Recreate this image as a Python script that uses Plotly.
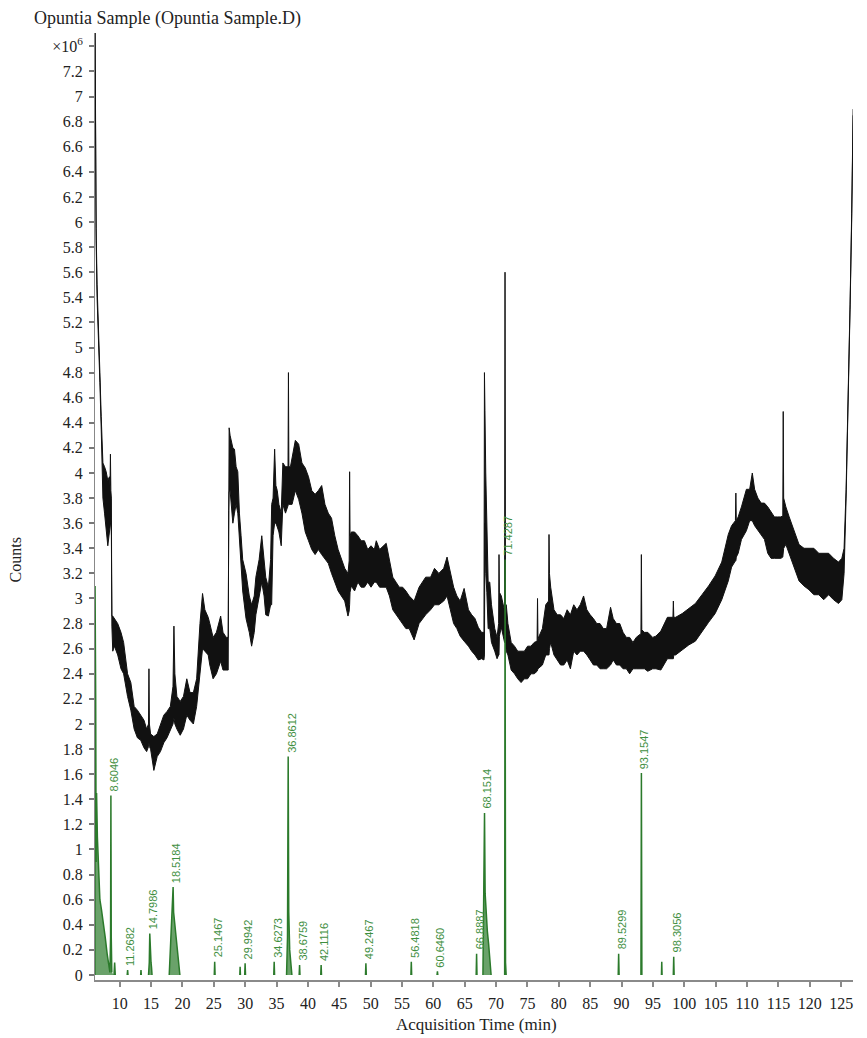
import plotly.graph_objects as go

# ---------------- data (values in units of 10^6 counts) ----------------
tic_time = [6.07, 6.15, 6.25, 6.40, 6.60, 6.85, 7.06, 7.33, 7.59, 7.85, 8.11, 8.37, 8.46, 8.53, 8.60, 8.68, 8.72, 8.76,
            8.90, 9.16, 9.69, 10.21, 10.63, 11.26, 11.78, 12.31, 12.83, 13.36, 13.88, 14.30, 14.60, 14.67, 14.74,
            14.93, 15.45, 15.98, 16.50, 17.03, 17.55, 18.08, 18.50, 18.65, 18.80, 19.12, 19.65, 20.17, 20.70,
            21.22, 21.75, 22.27, 22.80, 23.21, 23.58, 24.11, 24.37, 24.89, 25.42, 25.94, 26.10, 26.47, 26.99,
            27.30, 27.38, 27.45, 27.60, 28.04, 28.30, 28.56, 28.83, 29.09, 29.35, 29.61, 30.14, 30.66, 31.03,
            31.45, 31.71, 32.23, 32.65, 33.02, 33.28, 33.70, 34.06, 34.23, 34.45, 34.70, 34.90, 35.12, 35.38,
            35.75, 36.01, 36.43, 36.83, 36.90, 36.97, 37.22, 37.48, 38.00, 38.53, 39.05, 39.58, 40.10, 40.62,
            41.15, 41.67, 42.20, 42.72, 43.25, 43.77, 44.29, 44.82, 45.34, 45.87, 46.39, 46.58, 46.65, 46.72,
            46.92, 47.44, 47.97, 48.49, 49.01, 49.54, 50.06, 50.59, 50.90, 51.43, 52.48, 53.00, 53.53, 54.05,
            54.57, 55.10, 55.62, 56.15, 56.93, 57.72, 58.24, 58.77, 59.56, 60.18, 60.87, 61.65, 62.18, 62.70,
            63.23, 63.75, 64.27, 64.90, 65.59, 66.11, 66.63, 67.16, 67.68, 68.06, 68.14, 68.22, 68.35, 68.52,
            68.73, 68.99, 69.26, 69.78, 70.15, 70.40, 70.46, 70.52, 70.83, 71.35, 71.42, 71.49, 71.62, 71.88,
            72.40, 72.93, 73.45, 73.98, 74.50, 75.02, 75.55, 76.07, 76.53, 76.60, 76.67, 77.38, 77.91, 78.36,
            78.43, 78.50, 78.70, 79.22, 79.74, 80.27, 80.79, 81.32, 81.84, 82.37, 82.89, 83.41, 83.94, 84.46,
            84.99, 85.51, 86.04, 86.56, 87.09, 87.61, 88.24, 88.66, 89.18, 89.71, 90.23, 90.76, 91.28, 91.81,
            92.33, 93.08, 93.15, 93.22, 93.64, 94.17, 94.95, 95.47, 96.25, 97.30, 98.18, 98.25, 98.32, 98.61,
            99.66, 100.71, 101.76, 102.81, 103.86, 104.91, 105.96, 107.00, 107.53, 108.14, 108.21, 108.28,
            108.58, 109.10, 109.89, 110.41, 110.83, 111.20, 111.72, 112.25, 112.77, 113.30, 113.82, 114.35,
            114.87, 115.39, 115.69, 115.76, 115.83, 116.18, 116.71, 117.23, 117.75, 118.28, 119.07, 119.85,
            120.64, 121.43, 122.21, 123.00, 123.78, 124.57, 125.10, 125.46, 125.78, 126.14, 126.41, 126.67,
            126.83, 126.90]

tic_upper = [7.70, 6.60, 5.95, 5.50, 5.10, 4.80, 4.45, 4.08, 4.05, 4.01, 3.94, 3.97, 3.90, 4.15, 3.86, 3.80, 3.20, 2.86,
             2.86, 2.84, 2.80, 2.73, 2.65, 2.40, 2.33, 2.14, 2.11, 2.07, 2.03, 1.96, 2.00, 2.44, 2.00,
             1.92, 1.90, 1.92, 1.99, 2.07, 2.10, 2.14, 2.30, 2.78, 2.40, 2.22, 2.18, 2.22, 2.36,
             2.25, 2.25, 2.36, 2.80, 3.04, 2.91, 2.85, 2.80, 2.69, 2.73, 2.84, 2.86, 2.73, 2.69,
             2.69, 4.30, 4.36, 4.30, 4.20, 4.19, 4.05, 4.01, 3.68, 3.50, 3.31, 3.20, 3.02, 2.95,
             3.02, 3.17, 3.31, 3.50, 3.31, 3.17, 3.09, 3.31, 3.75, 3.80, 4.19, 3.90, 3.86, 3.75,
             3.68, 4.08, 4.05, 4.05, 4.80, 4.05, 4.05, 4.12, 4.26, 4.23, 4.08, 4.04, 3.97, 3.86,
             3.83, 3.86, 3.90, 3.75, 3.68, 3.64, 3.50, 3.39, 3.31, 3.24, 3.20, 3.30, 4.01, 3.50,
             3.53, 3.53, 3.50, 3.46, 3.46, 3.39, 3.42, 3.39, 3.46, 3.39, 3.44, 3.31, 3.17, 3.13,
             3.09, 3.09, 3.06, 3.02, 2.98, 3.09, 3.13, 3.17, 3.17, 3.24, 3.20, 3.24, 3.33, 3.20,
             3.09, 3.02, 2.98, 3.08, 2.91, 2.87, 2.84, 2.77, 2.73, 2.73, 4.80, 4.50, 4.00, 3.50,
             3.13, 3.13, 2.95, 2.76, 2.69, 2.80, 3.35, 3.05, 3.02, 2.90, 5.60, 2.95, 2.95, 2.80,
             2.65, 2.62, 2.58, 2.58, 2.58, 2.62, 2.62, 2.65, 2.66, 3.00, 2.68, 2.76, 2.95, 2.98,
             3.51, 3.20, 3.09, 2.91, 2.87, 2.87, 2.84, 2.91, 2.87, 2.95, 2.91, 2.95, 3.02, 2.91,
             2.87, 2.84, 2.80, 2.80, 2.76, 2.76, 2.93, 2.84, 2.80, 2.80, 2.73, 2.69, 2.69, 2.65,
             2.69, 2.72, 3.35, 2.75, 2.73, 2.73, 2.69, 2.70, 2.74, 2.85, 2.85, 2.98, 2.85, 2.85,
             2.88, 2.92, 2.96, 3.03, 3.10, 3.18, 3.29, 3.51, 3.58, 3.62, 3.84, 3.62,
             3.65, 3.73, 3.87, 3.87, 4.00, 3.87, 3.80, 3.76, 3.76, 3.73, 3.69, 3.65,
             3.65, 3.65, 3.66, 4.49, 3.80, 3.73, 3.65, 3.58, 3.51, 3.43, 3.40, 3.40,
             3.40, 3.36, 3.36, 3.36, 3.32, 3.29, 3.32, 3.40, 3.87, 4.60, 5.34, 6.07,
             6.80, 6.90]

tic_lower = [7.60, 6.50, 5.85, 5.40, 5.00, 4.72, 4.35, 3.80, 3.68, 3.57, 3.42, 3.53, 3.60, 3.60, 3.62, 3.50, 2.95, 2.78,
             2.58, 2.62, 2.55, 2.44, 2.40, 2.22, 2.11, 1.96, 1.89, 1.87, 1.81, 1.78, 1.82, 1.85, 1.82,
             1.80, 1.63, 1.74, 1.78, 1.85, 1.89, 1.96, 2.00, 2.05, 2.00, 1.96, 1.91, 1.96, 2.07,
             2.03, 2.00, 2.14, 2.40, 2.60, 2.58, 2.55, 2.47, 2.36, 2.40, 2.47, 2.50, 2.43, 2.43,
             2.43, 3.70, 3.85, 3.86, 3.60, 3.68, 3.75, 3.68, 3.50, 3.31, 3.06, 2.84, 2.73, 2.62,
             2.73, 2.87, 3.02, 3.13, 3.02, 2.87, 2.86, 2.95, 2.95, 3.50, 3.60, 3.60, 3.57, 3.53,
             3.42, 3.75, 3.68, 3.75, 3.75, 3.75, 3.75, 3.75, 3.86, 3.79, 3.68, 3.53, 3.46, 3.39,
             3.35, 3.39, 3.35, 3.31, 3.28, 3.20, 3.13, 3.06, 3.02, 2.98, 2.86, 2.90, 2.95, 3.05,
             3.10, 3.06, 3.13, 3.09, 3.09, 3.13, 3.09, 3.13, 3.13, 3.09, 3.09, 3.02, 2.91, 2.87,
             2.84, 2.80, 2.76, 2.76, 2.67, 2.80, 2.84, 2.87, 2.91, 2.95, 2.95, 2.98, 3.02, 2.91,
             2.80, 2.76, 2.70, 2.66, 2.62, 2.58, 2.55, 2.51, 2.52, 2.51, 2.55, 3.60, 3.20, 3.05,
             2.76, 2.76, 2.65, 2.58, 2.52, 2.55, 2.55, 2.70, 2.77, 2.65, 2.65, 2.65, 2.58, 2.55,
             2.43, 2.40, 2.36, 2.33, 2.36, 2.36, 2.40, 2.40, 2.42, 2.43, 2.44, 2.47, 2.55, 2.55,
             2.55, 2.60, 2.65, 2.55, 2.51, 2.47, 2.47, 2.51, 2.44, 2.58, 2.55, 2.58, 2.58, 2.55,
             2.51, 2.47, 2.47, 2.44, 2.44, 2.44, 2.47, 2.51, 2.47, 2.47, 2.44, 2.44, 2.40, 2.44,
             2.44, 2.44, 2.44, 2.44, 2.44, 2.42, 2.44, 2.44, 2.43, 2.52, 2.52, 2.52, 2.55, 2.55,
             2.59, 2.63, 2.66, 2.74, 2.81, 2.88, 2.99, 3.14, 3.25, 3.30, 3.30, 3.33,
             3.36, 3.47, 3.54, 3.62, 3.62, 3.58, 3.54, 3.51, 3.47, 3.36, 3.32, 3.32,
             3.32, 3.32, 3.33, 3.35, 3.40, 3.43, 3.36, 3.29, 3.21, 3.14, 3.10, 3.07,
             3.03, 3.03, 2.99, 3.03, 2.99, 2.96, 2.99, 3.20, 3.80, 4.55, 5.30, 6.00,
             6.75, 6.85]

eic_time = [6.06, 6.08, 6.12, 6.18, 6.25, 6.32, 6.45, 6.60, 6.85, 7.10, 7.40, 7.70, 8.00, 8.25, 8.45, 8.55, 8.6046, 8.66, 8.75, None,
            9.10, 9.20, 9.30, None,
            11.20, 11.2682, 11.33, None,
            13.35, 13.40, 13.45, None,
            14.60, 14.72, 14.7986, 14.88, 15.00, 15.08, 15.16, None,
            17.90, 18.10, 18.30, 18.45, 18.5184, 18.60, 18.80, 19.00, 19.20, 19.40, 19.60, None,
            25.08, 25.1467, 25.21, None,
            29.15, 29.20, 29.25, None,
            29.93, 29.9942, 30.06, None,
            34.56, 34.6273, 34.69, None,
            36.60, 36.75, 36.8612, 36.95, 37.10, 37.30, 37.45, None,
            38.61, 38.6759, 38.74, None,
            42.05, 42.1116, 42.17, None,
            49.18, 49.2467, 49.31, None,
            56.42, 56.4818, 56.54, None,
            60.58, 60.6460, 60.71, None,
            66.82, 66.8887, 66.95, None,
            67.90, 68.00, 68.1514, 68.25, 68.40, 68.60, 68.80, 69.00, 69.20, None,
            71.36, 71.4287, 71.50, 71.60, None,
            89.46, 89.5299, 89.60, None,
            93.08, 93.1547, 93.23, None,
            96.35, 96.40, 96.45, None,
            98.24, 98.3056, 98.37]

eic_counts = [0, 3.10, 1.00, 2.20, 0.90, 1.45, 1.10, 0.85, 0.60, 0.52, 0.42, 0.30, 0.17, 0.08, 0.02, 0.30, 1.43, 0.30, 0.02, None,
              0, 0.10, 0, None,
              0, 0.04, 0, None,
              0, 0.04, 0, None,
              0, 0.10, 0.33, 0.10, 0.10, 0.06, 0, None,
              0, 0.20, 0.45, 0.60, 0.70, 0.50, 0.40, 0.30, 0.20, 0.10, 0, None,
              0, 0.106, 0, None,
              0, 0.066, 0, None,
              0, 0.093, 0, None,
              0, 0.106, 0, None,
              0, 0.30, 1.74, 0.50, 0.20, 0.05, 0, None,
              0, 0.08, 0, None,
              0, 0.08, 0, None,
              0, 0.093, 0, None,
              0, 0.106, 0, None,
              0, 0.03, 0, None,
              0, 0.17, 0, None,
              0, 0.50, 1.29, 0.65, 0.50, 0.35, 0.25, 0.10, 0, None,
              0, 3.31, 0.10, 0, None,
              0, 0.17, 0, None,
              0, 1.61, 0, None,
              0, 0.106, 0, None,
              0, 0.146, 0]

peak_rt = [8.6046, 11.2682, 14.7986, 18.5184, 25.1467, 29.9942, 34.6273, 36.8612, 38.6759, 42.1116,
           49.2467, 56.4818, 60.6460, 66.8887, 68.1514, 71.4287, 89.5299, 93.1547, 98.3056]
peak_apex = [1.43, 0.04, 0.33, 0.70, 0.106, 0.093, 0.106, 1.74, 0.08, 0.08,
             0.093, 0.106, 0.03, 0.17, 1.29, 3.31, 0.17, 1.61, 0.146]

x_ticks = list(range(10, 126, 5))
y_ticks = [round(0.2 * i, 1) for i in range(38)]
y_ticktext = [f"{v:g}" for v in y_ticks[:-1]] + ["×10<sup>6</sup>"]

# ---------------- figure ----------------
SERIF = "Liberation Serif, Times New Roman, serif"
BLACK = "#111111"
GREEN = "#2b7a2b"
LABEL_GREEN = "#3f8f3f"

fig = go.Figure()
fig.add_trace(go.Scatter(x=tic_time, y=tic_lower, mode="lines",
                         line=dict(color=BLACK, width=1), hoverinfo="skip"))
fig.add_trace(go.Scatter(x=tic_time, y=tic_upper, mode="lines", fill="tonexty",
                         fillcolor=BLACK, line=dict(color=BLACK, width=1), hoverinfo="skip"))
fig.add_trace(go.Scatter(x=eic_time, y=eic_counts, mode="lines", connectgaps=False,
                         fill="tozeroy", fillcolor="rgba(43,122,43,0.7)",
                         line=dict(color=GREEN, width=1.5), hoverinfo="skip"))

for rt, h in zip(peak_rt, peak_apex):
    fig.add_annotation(x=rt, y=h, xref="x", yref="y", text=f"{rt:.4f}", showarrow=False,
                       textangle=-90, xanchor="center", yanchor="bottom", xshift=3, yshift=2,
                       font=dict(family="Liberation Sans, Arial, sans-serif", size=11, color=LABEL_GREEN))

fig.add_annotation(xref="paper", yref="paper", x=-0.0828, y=1.0158, xanchor="left", yanchor="middle",
                   text="Opuntia Sample (Opuntia Sample.D)", showarrow=False,
                   font=dict(family=SERIF, size=18, color="#222"))
fig.add_annotation(xref="paper", yref="paper", x=-0.105, y=0.4435, xanchor="center", yanchor="middle",
                   text="Counts", textangle=-90, showarrow=False,
                   font=dict(family=SERIF, size=16, color="#222"))
fig.add_annotation(xref="paper", yref="paper", x=0.503, y=-0.0475, xanchor="center", yanchor="middle",
                   text="Acquisition Time (min)", showarrow=False,
                   font=dict(family=SERIF, size=17, color="#222"))

# the page adds an 8 px body margin; keep the figure inside the visible area
fig.update_layout(
    width=851, height=1030,
    margin=dict(l=87, r=6, t=25, b=58),
    paper_bgcolor="white", plot_bgcolor="white",
    showlegend=False,
    xaxis=dict(range=[6.07, 126.88], tickvals=x_ticks, ticks="outside", ticklen=5, tickwidth=2,
               tickcolor="#8a8a8a", showline=True, linecolor="#8a8a8a", linewidth=2,
               showgrid=False, zeroline=False, ticklabelstandoff=3,
               tickfont=dict(family=SERIF, size=16, color="#222")),
    yaxis=dict(range=[-0.04, 7.506], tickvals=y_ticks, ticktext=y_ticktext, ticks="outside",
               ticklen=5, tickwidth=2, tickcolor="#777", showline=True, linecolor="#888", linewidth=1,
               showgrid=False, zeroline=False, ticklabelstandoff=3,
               tickfont=dict(family=SERIF, size=16, color="#222")),
)

fig.write_html("out.html")
